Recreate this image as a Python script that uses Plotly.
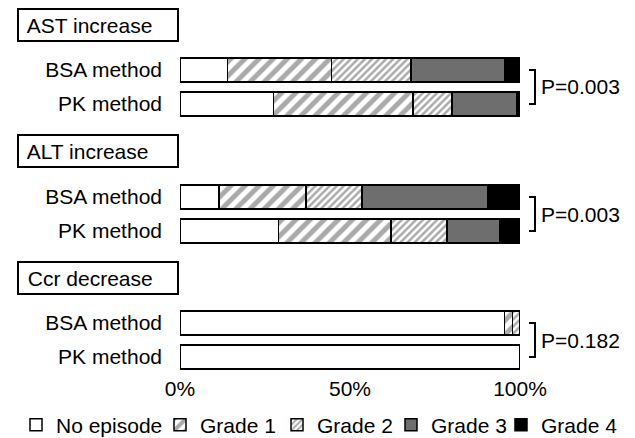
import plotly.graph_objects as go

groups = ["AST increase", "ALT increase", "Ccr decrease"]
methods = ["BSA method", "PK method"]
grades = ["No episode", "Grade 1", "Grade 2", "Grade 3", "Grade 4"]

# percentages per group: [BSA, PK] for each grade
ast_bsa = [14, 30.5, 23.5, 27.5, 4.5]
ast_pk = [27.5, 41, 11.5, 19, 1]
alt_bsa = [11.5, 25.5, 16.5, 37, 9.5]
alt_pk = [29, 33, 16.5, 15.5, 6]
ccr_bsa = [95.5, 2.3, 2.2, None, None]
ccr_pk = [100, None, None, None, None]
p_values = ["P=0.003", "P=0.003", "P=0.182"]
x_ticks = [0, 50, 100]
x_tick_labels = ["0%", "50%", "100%"]

data = [(ast_bsa, ast_pk), (alt_bsa, alt_pk), (ccr_bsa, ccr_pk)]

FONT = "Liberation Sans, Arial, Helvetica, sans-serif"
FS = 21
W, H = 635.0, 438.0

styles = [
    dict(color="white"),
    dict(color="white", pattern=dict(shape="/", size=10, solidity=0.5, fgcolor="#555555", bgcolor="white", fillmode="overlay")),
    dict(color="white", pattern=dict(shape="/", size=5, solidity=0.5, fgcolor="#555555", bgcolor="white", fillmode="overlay")),
    dict(color="#6e6e6e"),
    dict(color="black"),
]
legend_ids = ["legend", "legend2", "legend3", "legend4", "legend5"]
legend_sq_x = [33, 177, 294, 408, 518]

fig = go.Figure()
yaxes = ["y", "y2", "y3"]
for gi, (bsa, pk) in enumerate(data):
    for k, name in enumerate(grades):
        m = dict(styles[k])
        m["line"] = dict(color="black", width=1.5)
        fig.add_trace(go.Bar(
            x=[bsa[k], pk[k]], y=methods, orientation="h", name=name,
            marker=m, legendgroup=name, showlegend=(gi == 0), legend=legend_ids[k],
            xaxis="x", yaxis=yaxes[gi], hoverinfo="skip",
        ))

def dom(top, bot):
    return [1 - bot / H, 1 - top / H]

yax_common = dict(
    type="category", categoryorder="array", categoryarray=methods,
    autorange="reversed", showgrid=False, zeroline=False, showline=False,
    ticks="", ticklabelstandoff=17, tickfont=dict(size=FS, family=FONT, color="black"),
    automargin=False,
)
layout = dict(
    width=635, height=438,
    margin=dict(l=180, r=115, t=0, b=0, autoexpand=False),
    paper_bgcolor="white", plot_bgcolor="white",
    barmode="stack", bargap=0.3,
    font=dict(family=FONT, size=FS, color="black"),
    xaxis=dict(range=[0, 100], anchor="y3", tickvals=x_ticks, ticktext=x_tick_labels,
               showgrid=False, zeroline=False, showline=False, ticks="",
               tickfont=dict(size=FS, family=FONT, color="black"), automargin=False),
    yaxis=dict(domain=dom(53, 121), anchor="x", **yax_common),
    yaxis2=dict(domain=dom(180, 248), anchor="x", **yax_common),
    yaxis3=dict(domain=dom(306, 374), anchor="x", **yax_common),
    showlegend=True,
)
for lid, sx in zip(legend_ids, legend_sq_x):
    layout[lid] = dict(orientation="h", xref="container", yref="container",
                       x=(sx - 17) / W, xanchor="left", y=1 - 425 / H, yanchor="middle",
                       font=dict(size=FS, family=FONT, color="black"), itemwidth=30,
                       bgcolor="rgba(0,0,0,0)", borderwidth=0)
fig.update_layout(**layout)

header_y = [25, 151.5, 278]
for gi, g in enumerate(groups):
    fig.add_annotation(
        text=" " + g, xref="paper", yref="paper", x=(17 - 180) / 340.0, y=1 - header_y[gi] / H,
        xanchor="left", yanchor="middle", showarrow=False, align="left",
        width=152, height=24, borderpad=3, bordercolor="black", borderwidth=2,
        font=dict(size=FS, family=FONT, color="black"), bgcolor="white",
    )
    ya = yaxes[gi]
    fig.add_annotation(
        text=p_values[gi], xref="paper", yref=ya, x=(539 - 180) / 340.0, y=0.5,
        xanchor="left", yanchor="middle", showarrow=False,
        font=dict(size=FS, family=FONT, color="black"),
    )
    xa = (529 - 180) / 340.0
    xb = (535 - 180) / 340.0
    fig.add_shape(type="path", xref="paper", yref=ya,
                  path=f"M {xa} 0 L {xb} 0 L {xb} 1 L {xa} 1",
                  line=dict(color="black", width=2))

fig.write_html("out.html", config={"displayModeBar": False},
               post_script="document.body.style.margin='0px';")
